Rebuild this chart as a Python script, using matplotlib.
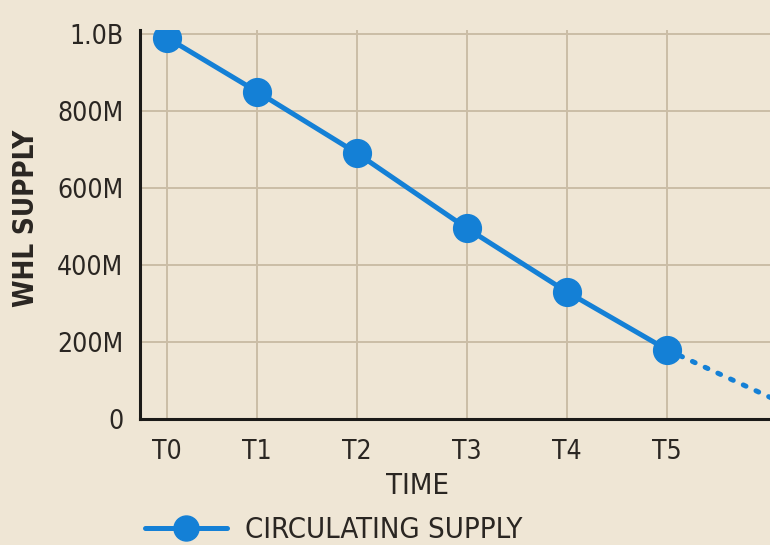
import numpy as np
import matplotlib
matplotlib.use("Agg")
from matplotlib import pyplot as plt
from matplotlib.ticker import FuncFormatter

# data
time_pos = [0.0, 0.9, 1.9, 3.0, 4.0, 5.0]
time_labels = ["T0", "T1", "T2", "T3", "T4", "T5"]
supply = [990e6, 850e6, 690e6, 495e6, 330e6, 180e6]
proj_time = [5.0, 6.5]
proj_supply = [180e6, 0.0]
y_ticks = [0, 200e6, 400e6, 600e6, 800e6, 1000e6]

BG = "#efe6d5"
GRID = "#cbbda6"
BLUE = "#1480d6"
INK = "#2a2622"

plt.rcParams["font.family"] = ["DejaVu Sans"]
plt.rcParams["font.stretch"] = "condensed"


def fmt_supply(v, _):
    if v == 0:
        return "0"
    if v >= 1e9:
        return f"{v / 1e9:.1f}B"
    return f"{v / 1e6:.0f}M"


fig = plt.figure(figsize=(7.7, 5.45), dpi=100, facecolor=BG)
ax = fig.add_axes([140 / 770, 126 / 545, 637 / 770, 389 / 545])
ax.set_facecolor(BG)

ax.plot(proj_time, proj_supply, color=BLUE, lw=3.6, ls=(0, (0.6, 2.2)),
        dash_capstyle="round", zorder=2)
ax.plot(time_pos, supply, color=BLUE, lw=3.6, marker="o", markersize=20,
        solid_capstyle="round", zorder=3, label="CIRCULATING SUPPLY")

ax.set_xlim(-0.27, 6.1)
ax.set_ylim(0, 1.01e9)
ax.set_xticks(time_pos)
ax.set_xticklabels(time_labels)
ax.set_yticks(y_ticks)
ax.yaxis.set_major_formatter(FuncFormatter(fmt_supply))

ax.grid(True, color=GRID, lw=1.4)
ax.set_axisbelow(True)
for s in ("top", "right"):
    ax.spines[s].set_visible(False)
for s in ("left", "bottom"):
    ax.spines[s].set_color("#1b1a18")
    ax.spines[s].set_linewidth(2.2)

ax.tick_params(axis="both", length=0, labelsize=19, labelcolor=INK)
ax.tick_params(axis="x", pad=14.5)
ax.tick_params(axis="y", pad=12)

ax.set_xlabel("TIME", fontsize=21, color=INK, va="center")
ax.xaxis.set_label_coords(0.4364, -0.172)
ax.set_ylabel("WHL SUPPLY", fontsize=20, color=INK, fontweight="bold", va="center")
ax.yaxis.set_label_coords(-0.179, 0.517)

fig.legend(loc="center left", bbox_to_anchor=(145 / 770, 1 - 530 / 545),
           frameon=False, borderpad=0, borderaxespad=0, handlelength=2.8,
           handletextpad=0.62, prop={"size": 21}, labelcolor=INK, markerscale=0.9)

plt.savefig("out.png", dpi=100, facecolor=BG)
